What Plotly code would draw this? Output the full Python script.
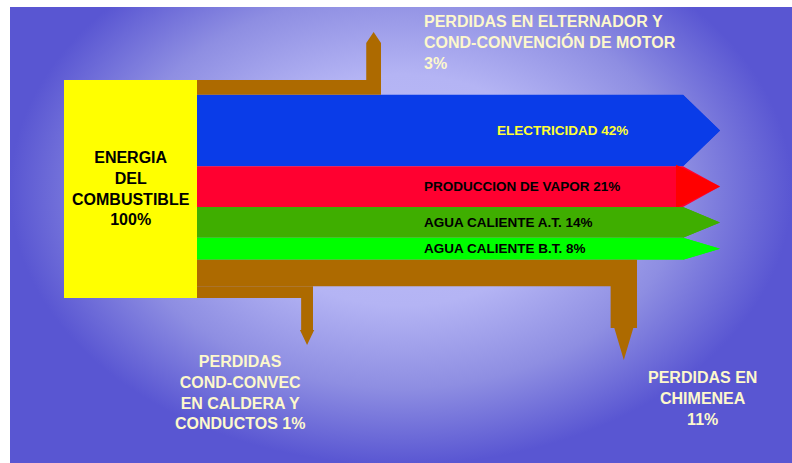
import plotly.graph_objects as go

# ---------------- data ----------------
source_lines = ["ENERGIA", "DEL", "COMBUSTIBLE"]
source_value = 100

product_names = ["ELECTRICIDAD", "PRODUCCION DE VAPOR",
                 "AGUA CALIENTE A.T.", "AGUA CALIENTE B.T."]
product_values = [42, 21, 14, 8]

loss_names = ["PERDIDAS EN ELTERNADOR Y<br>COND-CONVENCIÓN DE MOTOR",
              "PERDIDAS EN<br>CHIMENEA",
              "PERDIDAS<br>COND-CONVEC<br>EN CALDERA Y<br>CONDUCTOS"]
loss_values = [3, 11, 1]
loss_value_sep = ["<br>", "<br>", " "]

# ---------------- layout / style ----------------
W, H = 792, 463
PANEL_X0, PANEL_Y0 = 10, 7
FONT = "Liberation Sans, Arial, sans-serif"

BAND_MIN = 10.4        # every band gets this thickness...
BAND_PER_PCT = 1.452   # ...plus this much per percentage point


def band(v):
    return BAND_MIN + BAND_PER_PCT * v


SRC_X0, SRC_X1, SRC_Y0 = 64, 197, 80
SRC_COLOR = "#ffff00"
BODY_END = 683
HEAD_TIP = 720

product_colors = ["#0a3ce8", "#ff0030", "#3fae00", "#00ff00"]
head_colors = ["#0a3ce8", "#ff0000", "#3fae00", "#00ff00"]
head_start = [683, 676, 683, 683]
head_flare = [0, 1.5, 0, 0]
product_label_colors = ["#ffff33", "#000000", "#000000", "#000000"]
product_label_x = [562, 422, 422, 422]
product_label_anchor = ["center", "left", "left", "left"]

LOSS_COLOR = "#ad6a00"
LOSS_TEXT = "#fdf8cc"
loss_turn_x = [381, 637, 313]      # outer edge of each vertical stem
loss_dir = [-1, 1, 1]              # -1 goes up, +1 goes down
loss_stem_end = [43, 328, 330]
loss_head_len = [11, 32, 15]
loss_head_scale = [1.0, 0.72, 1.2]
loss_label_xy = [(422, 42, "left"), (702, 398, "center"), (240, 392, "center")]

# stacking order of the bands leaving the source box, top to bottom
order = [("loss", 0), ("prod", 0), ("prod", 1), ("prod", 2), ("prod", 3),
         ("loss", 1), ("loss", 2)]

edges = {}
y = SRC_Y0
for kind, i in order:
    v = loss_values[i] if kind == "loss" else product_values[i]
    t = band(v)
    edges[(kind, i)] = (y, y + t)
    y += t
SRC_Y1 = y

fig = go.Figure()


def poly(xs, ys, color, **kw):
    fig.add_trace(go.Scatter(
        x=xs + [xs[0]], y=ys + [ys[0]], mode="lines", fill="toself",
        fillcolor=color, line=dict(width=0, color=color),
        hoverinfo="skip", showlegend=False, **kw))


# background panel with a soft radial light
fig.add_trace(go.Scatter(
    x=[PANEL_X0, W, W, PANEL_X0, PANEL_X0], y=[-85, -85, 465, 465, -85],
    mode="lines", fill="toself", line=dict(width=0),
    fillgradient=dict(type="radial", colorscale=[
        [0.0, "#bcbcf8"], [0.42, "#b4b4f4"], [0.72, "#8e8ee2"], [1.0, "#5956d2"]]),
    hoverinfo="skip", showlegend=False))

# product arrows
for i in range(len(product_values)):
    y0, y1 = edges[("prod", i)]
    ym = (y0 + y1) / 2
    poly([SRC_X1, BODY_END, HEAD_TIP, BODY_END, SRC_X1],
         [y0, y0, ym, y1, y1], product_colors[i])
    hs, fl = head_start[i], head_flare[i]
    poly([hs, HEAD_TIP, hs], [y0 - fl, ym, y1 + fl], head_colors[i])

# loss arrows (band that bends up or down into a stem)
for i in range(len(loss_values)):
    y0, y1 = edges[("loss", i)]
    t = y1 - y0
    s = loss_dir[i]
    y_in, y_out = (y1, y0) if s < 0 else (y0, y1)
    x1 = loss_turn_x[i]
    xc = x1 - t / 2
    e = (t * loss_head_scale[i] - t) / 2
    end = loss_stem_end[i]
    poly([SRC_X1, x1, x1, x1 + e, xc, x1 - t - e, x1 - t, x1 - t, SRC_X1],
         [y_in, y_in, end, end, end + s * loss_head_len[i], end, end, y_out, y_out],
         LOSS_COLOR)

# source box
poly([SRC_X0, SRC_X1, SRC_X1, SRC_X0], [SRC_Y0, SRC_Y0, SRC_Y1, SRC_Y1], SRC_COLOR)

annotations = []
annotations.append(dict(
    x=(SRC_X0 + SRC_X1) / 2, y=(SRC_Y0 + SRC_Y1) / 2 - 1,
    text="<br>".join(source_lines + [f"{source_value}%"]),
    font=dict(family=FONT, size=16, color="#000000", weight="bold"),
    xanchor="center", yanchor="middle", align="center"))

for i, name in enumerate(product_names):
    y0, y1 = edges[("prod", i)]
    annotations.append(dict(
        x=product_label_x[i], y=(y0 + y1) / 2,
        text=f"{name} {product_values[i]}%",
        font=dict(family=FONT, size=13.5, color=product_label_colors[i], weight="bold"),
        xanchor=product_label_anchor[i], yanchor="middle",
        align=product_label_anchor[i]))

for i, name in enumerate(loss_names):
    lx, ly, anc = loss_label_xy[i]
    annotations.append(dict(
        x=lx, y=ly, text=f"{name}{loss_value_sep[i]}{loss_values[i]}%",
        font=dict(family=FONT, size=16, color=LOSS_TEXT, weight="bold"),
        xanchor=anc, yanchor="middle", align=anc))

for a in annotations:
    a.update(xref="x", yref="y", showarrow=False)

fig.update_layout(
    width=W, height=H,
    margin=dict(l=PANEL_X0, r=0, t=PANEL_Y0, b=0, pad=0),
    paper_bgcolor="#ffffff", plot_bgcolor="#ffffff",
    xaxis=dict(range=[PANEL_X0, W], visible=False, fixedrange=True),
    yaxis=dict(range=[H, PANEL_Y0], visible=False, fixedrange=True),
    annotations=annotations,
    showlegend=False,
)

fig.write_html("out.html")
